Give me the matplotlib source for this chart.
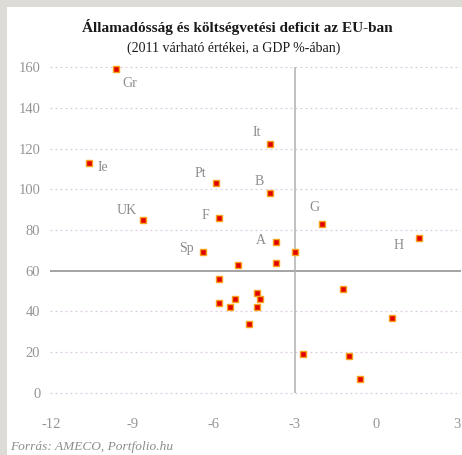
#Librerias
import matplotlib
matplotlib.use("Agg")
import matplotlib.pyplot as plt
from matplotlib.patches import Rectangle

#Datos: deficit (x) y deuda publica (y), % del PIB, 2011
paises = ["Gr", "Ie", "UK", "Pt", "F", "Sp", "It", "B", "G", "A", "H",
          "", "", "", "", "", "", "", "", "", "", "", "", "", "", "", ""]
deficit = [-9.6, -10.6, -8.6, -5.9, -5.8, -6.4, -3.9, -3.9, -2.0, -3.7, 1.6,
           -5.1, -5.8, -3.7, -3.0, -1.2, -4.4, -4.3, -5.2, -5.4, -4.4, -4.7,
           0.6, -2.7, -1.0, -0.6, -5.8]
deuda = [159, 113, 85, 103, 86, 69, 122, 98, 83, 74, 76,
         63, 56, 64, 69, 51, 49, 46, 46, 42, 42, 34,
         37, 19, 18, 7, 44]
x_ticks = [-12, -9, -6, -3, 0, 3]
y_ticks = [0, 20, 40, 60, 80, 100, 120, 140, 160]

#Desplazamiento de las etiquetas (puntos)
offsets = {"Gr": (10, -10), "Ie": (9.5, -3.5), "UK": (-12, 7), "Pt": (-11.5, 7),
           "F": (-10, 2), "Sp": (-11.5, 3), "It": (-10, 8.5), "B": (-8, 8.5),
           "G": (-5, 12), "A": (-11, 1.5), "H": (-15, -5)}

gris = "#8c8c8c"
serif = "Liberation Serif"

fig = plt.figure(figsize=(4.62, 4.55), dpi=100, facecolor="#dddbd6")
#Panel blanco
fig.patches.append(Rectangle((7/462, 0), 1, 1 - 7/455, transform=fig.transFigure,
                             facecolor="white", edgecolor="none", zorder=-10))

ax = fig.add_axes([50/462, (455-399)/455, 411/462, 338/455])
ax.set_facecolor("none")
ax.set_xlim(-12.05, 3.15)
ax.set_ylim(-3, 163)
for s in ax.spines.values():
    s.set_visible(False)

#Rejilla punteada
for v in y_ticks:
    if v != 60:
        ax.axhline(v, color="#dccbe0", lw=0.9, ls=(0, (1.5, 2.5)), zorder=1)
ax.axhline(60, color="#8a8a8a", lw=1.1, zorder=2)
ax.vlines(-3, 0, 160, color="#b0b0b0", lw=1.1, zorder=2)

#Puntos
ax.plot(deficit, deuda, ls="none", marker="s", ms=4.8, mfc="#e00000",
        mec="#f7a21b", mew=1.0, zorder=3)

for p, x, y in zip(paises, deficit, deuda):
    if p:
        ax.annotate(p, (x, y), xytext=offsets[p], textcoords="offset points",
                    ha="center", va="center", fontsize=10, color=gris,
                    family=serif)

ax.set_xticks(x_ticks)
ax.set_yticks(y_ticks)
ax.set_xticklabels([str(t) for t in x_ticks])
ax.tick_params(length=0, labelsize=10.5, labelcolor="#959595")
ax.tick_params(axis="x", pad=14)
ax.tick_params(axis="y", pad=7)
for lab in ax.get_xticklabels() + ax.get_yticklabels():
    lab.set_family(serif)

#Titulos
fig.text(237/462, 1 - 27/455, "Államadósság és költségvetési deficit az EU-ban",
         ha="center", va="center", fontsize=11, fontweight="bold",
         family=serif, color="#1a1a1a")
fig.text(234/462, 1 - 48/455, "(2011 várható értékei, a GDP %-ában)",
         ha="center", va="center", fontsize=10, family=serif, color="#1a1a1a")
fig.text(10/462, 1 - 447/455, "Forrás: AMECO, Portfolio.hu", ha="left",
         va="center", fontsize=9.6, style="italic", family=serif, color=gris)

fig.savefig("out.png", dpi=100, facecolor=fig.get_facecolor())
